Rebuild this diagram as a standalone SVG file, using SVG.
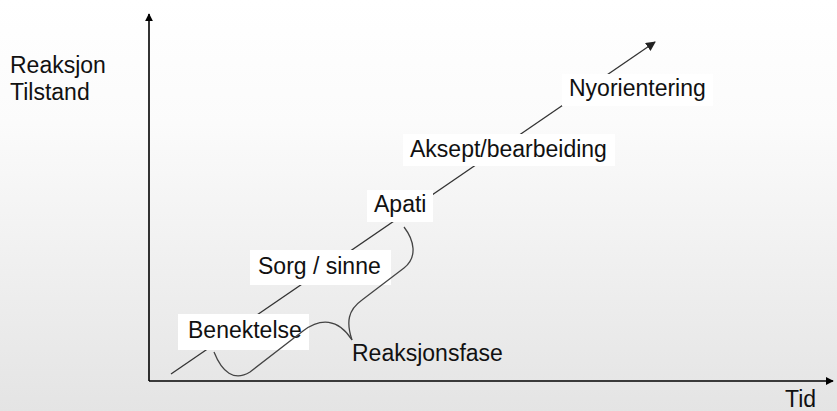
<svg xmlns="http://www.w3.org/2000/svg" width="837" height="411" viewBox="0 0 837 411">
  <defs>
    <linearGradient id="bg" x1="0" y1="0" x2="0" y2="1">
      <stop offset="0" stop-color="#ffffff"/>
      <stop offset="0.3" stop-color="#fbfbfb"/>
      <stop offset="1" stop-color="#e4e4e4"/>
    </linearGradient>
    <marker id="arrow" viewBox="0 0 10 10" refX="9" refY="5" markerWidth="5" markerHeight="5" orient="auto" markerUnits="strokeWidth">
      <path d="M0,0 L10,5 L0,10 Z" fill="#000"/>
    </marker>
    <marker id="arrowThin" viewBox="0 0 10 10" refX="9" refY="5" markerWidth="7.5" markerHeight="7.5" orient="auto" markerUnits="strokeWidth">
      <path d="M0,0 L10,5 L0,10 Z" fill="#222"/>
    </marker>
  </defs>
  <style>
    .label { font-family: "Liberation Sans", Arial, sans-serif; font-size: 23px; fill: #111; }
    .box { fill: #ffffff; }
    .axis { stroke: #000; stroke-width: 1.6; fill: none; }
    .trend { stroke: #333; stroke-width: 1.3; fill: none; }
    .brace { stroke: #444; stroke-width: 1.3; fill: none; }
  </style>

  <rect x="0" y="0" width="837" height="411" fill="url(#bg)"/>

  <g id="connectors">
    <line class="axis" x1="149" y1="381" x2="149" y2="14" marker-end="url(#arrow)"/>
    <line class="axis" x1="149" y1="381" x2="833" y2="381" marker-end="url(#arrow)"/>
    <line class="trend" x1="171" y1="374" x2="655" y2="42" marker-end="url(#arrowThin)"/>
  </g>

  <g id="y-axis-label">
    <text class="label" x="10" y="73">Reaksjon</text>
    <text class="label" x="10" y="100">Tilstand</text>
  </g>

  <g id="x-axis-label">
    <text class="label" x="785" y="407">Tid</text>
  </g>

  <g id="benektelse">
    <rect class="box" x="178" y="314" width="131" height="36"/>
    <text class="label" x="188" y="338">Benektelse</text>
  </g>

  <g id="sorg-sinne">
    <rect class="box" x="250" y="250" width="141" height="35"/>
    <text class="label" x="258" y="274">Sorg / sinne</text>
  </g>

  <g id="apati">
    <rect class="box" x="367" y="190" width="66" height="32"/>
    <text class="label" x="374" y="212">Apati</text>
  </g>

  <g id="aksept">
    <rect class="box" x="403" y="134" width="212" height="32"/>
    <text class="label" x="410" y="157">Aksept/bearbeiding</text>
  </g>

  <g id="nyorientering">
    <rect class="box" x="562" y="74" width="151" height="32"/>
    <text class="label" x="569" y="96">Nyorientering</text>
  </g>

  <g id="reaksjonsfase">
    <path class="brace" d="M214,352 C222,372 234,382 250,372 L303,331 C320,318 338,318 352,340"/>
    <path class="brace" d="M352,340 C346,322 348,310 362,300 L404,268 C418,257 414,240 404,227"/>
    <text class="label" x="352" y="361">Reaksjonsfase</text>
  </g>
</svg>
